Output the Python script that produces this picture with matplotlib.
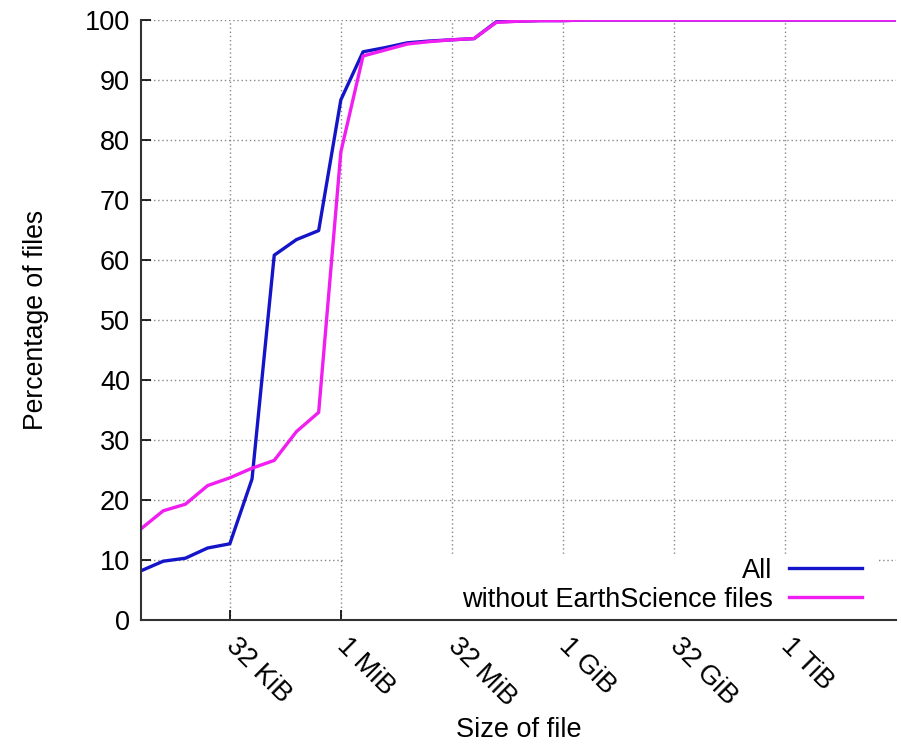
import numpy as np
import matplotlib
matplotlib.use('Agg')
import matplotlib.pyplot as plt
from matplotlib.patches import Rectangle

plt.rcParams['font.family'] = ['Liberation Sans', 'DejaVu Sans']

# file size buckets, powers of two from 2 KiB to 32 TiB
size_exp = list(range(11, 46))
pct_all = [8.2, 9.8, 10.3, 12.0, 12.7, 23.5, 60.8, 63.4, 64.9, 86.7,
           94.7, 95.4, 96.2, 96.5, 96.7, 96.9, 99.7, 99.8, 99.9, 99.9,
           100, 100, 100, 100, 100, 100, 100, 100, 100, 100,
           100, 100, 100, 100, 100]
pct_no_earth = [15.2, 18.2, 19.3, 22.4, 23.7, 25.3, 26.6, 31.4, 34.6, 78.0,
                94.0, 95.0, 96.0, 96.4, 96.7, 96.9, 99.6, 99.8, 99.9, 99.9,
                100, 100, 100, 100, 100, 100, 100, 100, 100, 100,
                100, 100, 100, 100, 100]
tick_exp = [15, 20, 25, 30, 35, 40]
tick_labels = ['32 KiB', '1 MiB', '32 MiB', '1 GiB', '32 GiB', '1 TiB']

sizes = 2.0 ** np.array(size_exp)
fs = 19.5

fig = plt.figure(figsize=(9.01, 7.44), dpi=100)
ax = fig.add_axes([141 / 901, 1 - 620 / 744, (896 - 141) / 901, 600 / 744])

ax.plot(sizes, pct_all, color='#1414c8', lw=2.4, label='All', zorder=3)
ax.plot(sizes, pct_no_earth, color='#f01ef0', lw=2.4,
        label='without EarthScience files', zorder=3)

ax.set_xscale('log', base=2)
ax.set_xlim(2.0 ** 11, 2.0 ** 45)
ax.set_ylim(0, 100)
ax.set_yticks(range(0, 101, 10))
ax.set_xticks([2.0 ** e for e in tick_exp])
ax.set_xticklabels(tick_labels, rotation=-45, ha='left', va='center',
                   rotation_mode='anchor')
ax.minorticks_off()
ax.tick_params(direction='in', length=7, width=1.2, labelsize=fs, pad=8)
ax.tick_params(axis='x', pad=16)

for s in ['top', 'right']:
    ax.spines[s].set_visible(False)
for s in ['left', 'bottom']:
    ax.spines[s].set_linewidth(1.5)
    ax.spines[s].set_color('#333333')
    ax.spines[s].set_zorder(4)

ax.grid(True, linestyle=(0, (1, 2)), color='#888888', lw=1)
ax.set_axisbelow(True)

# white key box hiding the grid, as in the original
ax.add_patch(Rectangle((0.27, 0.0), 0.706, 0.108, transform=ax.transAxes,
                       facecolor='white', edgecolor='none', zorder=2))

ax.set_xlabel('Size of file', fontsize=fs, labelpad=4)
ax.set_ylabel('Percentage of files', fontsize=19.2, labelpad=26)

ax.legend(loc='lower right', bbox_to_anchor=(0.955, 0.012), fontsize=fs,
          markerfirst=False, frameon=False, handlelength=2.7,
          handletextpad=0.6, labelspacing=0.12, borderpad=0,
          borderaxespad=0)

fig.savefig('out.png', dpi=100)
